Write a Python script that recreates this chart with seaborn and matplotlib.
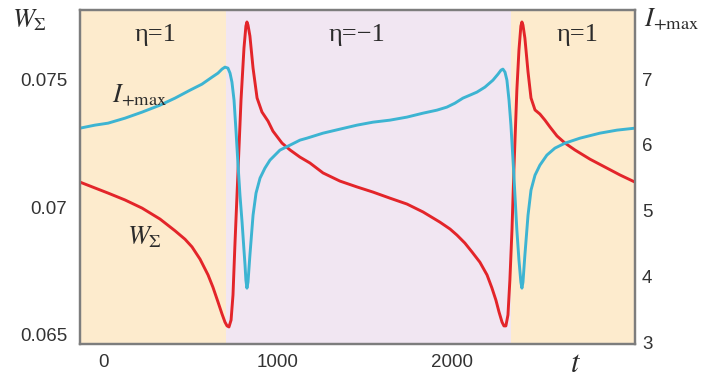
import matplotlib
matplotlib.use("Agg")
import matplotlib.pyplot as plt
import numpy as np
import pandas as pd
import seaborn as sns


# W_sigma (left axis)
t_w = [-132, -46, 29, 126, 224, 327, 413, 470, 510, 556, 602, 630, 659, 682, 699,
       711, 722, 734, 745, 756, 774, 791, 808, 819, 825, 831, 842, 860, 883, 911,
       946, 974, 1026, 1072, 1129, 1186, 1261, 1358, 1456, 1547, 1645, 1742, 1834,
       1931, 1989, 2029, 2074, 2115, 2160, 2201, 2229, 2252, 2270, 2287, 2298, 2309,
       2321, 2332, 2344, 2355, 2372, 2384, 2395, 2401, 2407, 2418, 2436, 2453, 2476,
       2504, 2533, 2562, 2602, 2648, 2705, 2791, 2877, 2963, 3049]
w_sigma = [0.07099, 0.07076, 0.07056, 0.07029, 0.06997, 0.06954, 0.06908, 0.06875,
           0.06845, 0.06797, 0.06735, 0.06687, 0.06629, 0.06582, 0.06550, 0.06535,
           0.06531, 0.06558, 0.06656, 0.06852, 0.07146, 0.07421, 0.07625, 0.07711,
           0.07727, 0.07715, 0.07672, 0.07546, 0.07429, 0.07374, 0.07338, 0.07299,
           0.07252, 0.07225, 0.07197, 0.07174, 0.07135, 0.07103, 0.07080, 0.07060,
           0.07036, 0.07013, 0.06982, 0.06942, 0.06915, 0.06891, 0.06860, 0.06825,
           0.06785, 0.06735, 0.06684, 0.06636, 0.06589, 0.06550, 0.06535, 0.06535,
           0.06578, 0.06715, 0.06911, 0.07146, 0.07460, 0.07617, 0.07711, 0.07727,
           0.07715, 0.07664, 0.07531, 0.07429, 0.07382, 0.07366, 0.07342, 0.07315,
           0.07280, 0.07252, 0.07225, 0.07189, 0.07158, 0.07127, 0.07099]

# I_+max (right axis)
t_i = [-132, -46, 29, 126, 224, 327, 413, 499, 567, 625, 659, 682, 699, 716, 728,
       739, 751, 762, 774, 785, 797, 808, 814, 819, 825, 831, 842, 860, 877, 900,
       928, 957, 1014, 1072, 1129, 1169, 1261, 1358, 1456, 1547, 1645, 1742, 1834,
       1914, 1971, 2017, 2063, 2103, 2143, 2189, 2235, 2264, 2281, 2292, 2304, 2315,
       2327, 2338, 2350, 2361, 2372, 2384, 2395, 2401, 2407, 2418, 2436, 2453, 2476,
       2504, 2544, 2590, 2648, 2734, 2848, 2946, 3049]
i_max = [6.253, 6.299, 6.329, 6.405, 6.497, 6.603, 6.710, 6.831, 6.922, 7.029,
         7.090, 7.151, 7.181, 7.166, 7.090, 6.953, 6.679, 6.223, 5.690, 5.234,
         4.824, 4.398, 4.170, 3.941, 3.820, 3.911, 4.322, 4.930, 5.265, 5.493,
         5.645, 5.767, 5.919, 5.995, 6.071, 6.101, 6.177, 6.238, 6.299, 6.344,
         6.375, 6.421, 6.481, 6.527, 6.573, 6.633, 6.710, 6.755, 6.801, 6.877,
         6.983, 7.075, 7.135, 7.151, 7.105, 6.983, 6.679, 6.299, 5.767, 5.234,
         4.702, 4.246, 3.911, 3.820, 3.911, 4.322, 4.930, 5.310, 5.538, 5.690,
         5.843, 5.949, 6.025, 6.101, 6.177, 6.223, 6.253]

# eta regions
eta_bounds = [-132, 705, 2340, 3049]
eta_values = [1, -1, 1]
eta_label_t = [300, 1456, 2722]

x_ticks = [0, 1000, 2000]
w_ticks = [0.065, 0.07, 0.075]
w_tick_labels = ["0.065", "0.07", "0.075"]
i_ticks = [3, 4, 5, 6, 7]

sns.set_theme(style="white")
plt.rcParams["font.family"] = ["Liberation Sans", "DejaVu Sans"]
plt.rcParams["mathtext.fontset"] = "stix"

RED = "#e3252a"
CYAN = "#3db4d2"
ORANGE_BG = "#fdebcd"
PURPLE_BG = "#f1e6f2"
FRAME = "#7d7d7d"
INK = "#2b2b2b"

fig = plt.figure(figsize=(7.09, 3.79), dpi=100)
ax = fig.add_axes([0.1128, 0.0923, 0.7828, 0.8813])
ax2 = ax.twinx()

ax.set_zorder(0)
ax2.set_zorder(1)
ax2.patch.set_visible(False)

for lo, hi, eta in zip(eta_bounds[:-1], eta_bounds[1:], eta_values):
    ax.axvspan(lo, hi, color=ORANGE_BG if eta == 1 else PURPLE_BG, lw=0, zorder=0)

df_w = pd.DataFrame({"t": t_w, "W": w_sigma})
df_i = pd.DataFrame({"t": t_i, "I": i_max})
sns.lineplot(data=df_w, x="t", y="W", ax=ax, color=RED, lw=2.1, estimator=None,
             solid_joinstyle="round", zorder=3)
sns.lineplot(data=df_i, x="t", y="I", ax=ax2, color=CYAN, lw=2.1, estimator=None,
             solid_joinstyle="round", zorder=2)

ax.set_xlim(-132, 3049)
ax.set_ylim(0.06464, 0.07774)
ax2.set_ylim(2.97, 8.05)

ax.set_xticks(x_ticks)
ax.set_yticks(w_ticks)
ax.set_yticklabels(w_tick_labels)
ax2.set_yticks(i_ticks)
ax.set_xlabel("")
ax.set_ylabel("")
ax2.set_ylabel("")

ax.tick_params(axis="x", length=0, pad=7, labelsize=13.5, labelcolor="#333333")
ax.tick_params(axis="y", length=0, pad=9, labelsize=13.5, labelcolor="#333333")
ax2.tick_params(axis="y", length=0, pad=5, labelsize=13.5, labelcolor="#333333")

for a in (ax, ax2):
    for sp in a.spines.values():
        sp.set_color(FRAME)
        sp.set_linewidth(1.6)

serif = ["Liberation Serif", "DejaVu Serif"]
trans = ax.get_xaxis_transform()
for tx, eta in zip(eta_label_t, eta_values):
    lab = "η=1" if eta == 1 else "η=−1"
    ax.text(tx, 0.925, lab, transform=trans, ha="center", va="center",
            fontsize=19, family=serif, color=INK)

ax2.text(212, 6.75, r"$I_{+\mathrm{max}}$", ha="center", va="center", fontsize=19, color=INK)
ax.text(240, 0.06884, r"$W_{\Sigma}$", ha="center", va="center", fontsize=19, color=INK)

fig.text(30 / 709, 1 - 20 / 379, r"$W_{\Sigma}$", ha="center", va="center", fontsize=19, color=INK)
fig.text(672 / 709, 1 - 20 / 379, r"$I_{+\mathrm{max}}$", ha="center", va="center", fontsize=19, color=INK)
fig.text(576 / 709, 1 - 364 / 379, r"$t$", ha="center", va="center", fontsize=22, color=INK)

fig.savefig("out.png", dpi=100)
plt.close(fig)
